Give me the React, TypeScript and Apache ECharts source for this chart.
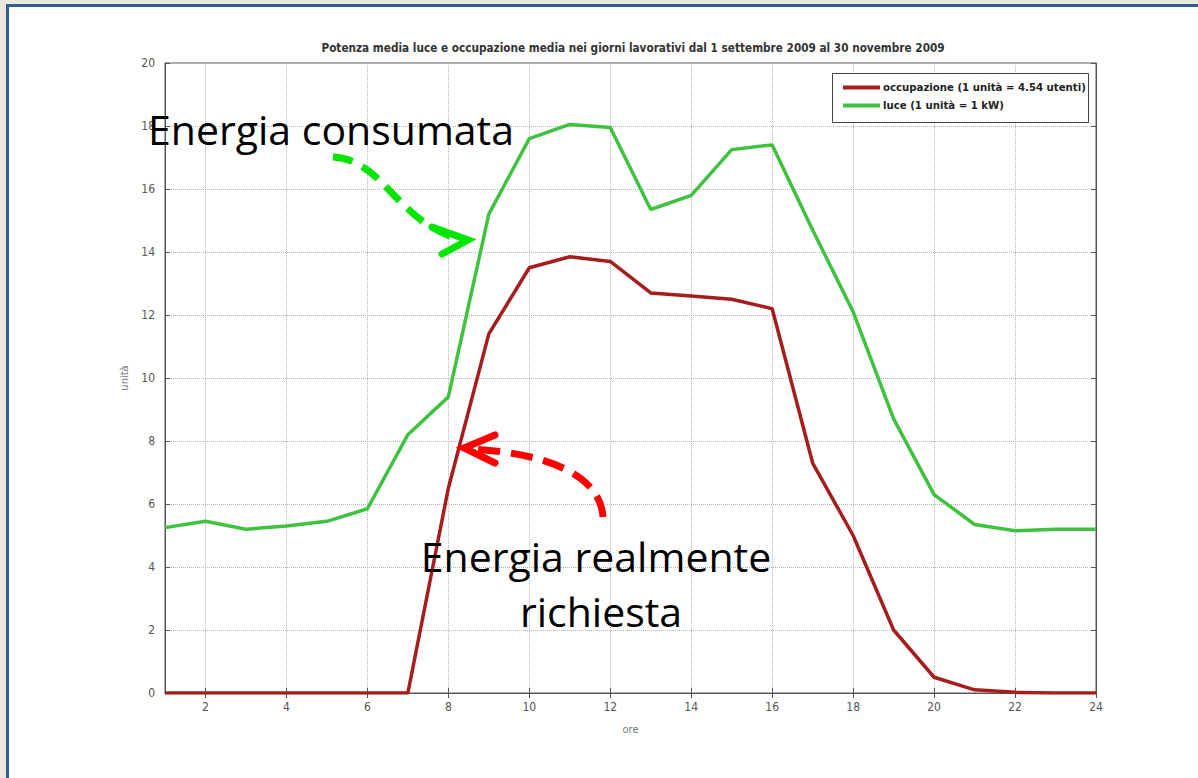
import React, { useEffect, useRef } from "react";
import * as echarts from "echarts";

const hours = [1, 2, 3, 4, 5, 6, 7, 8, 9, 10, 11, 12, 13, 14, 15, 16, 17, 18, 19, 20, 21, 22, 23, 24];
const luce = [5.25, 5.45, 5.2, 5.3, 5.45, 5.85, 8.2, 9.4, 15.2, 17.6, 18.05, 17.95, 15.35, 15.8, 17.25, 17.4, 14.7, 12.1, 8.7, 6.3, 5.35, 5.15, 5.2, 5.2];
const occupazione = [0, 0, 0, 0, 0, 0, 0, 6.5, 11.4, 13.5, 13.85, 13.7, 12.7, 12.6, 12.5, 12.2, 7.3, 5.0, 2.0, 0.5, 0.1, 0.02, 0, 0];
const xTicks = [2, 4, 6, 8, 10, 12, 14, 16, 18, 20, 22, 24];

const titleText = "Potenza media luce e occupazione media nei giorni lavorativi dal 1 settembre 2009 al 30 novembre 2009";
const nameOcc = "occupazione (1 unità = 4.54 utenti)";
const nameLuce = "luce (1 unità = 1 kW)";

const NARROW = "'Liberation Sans Narrow', 'DejaVu Sans Condensed', sans-serif";
const BIG = "'Open Sans', 'Noto Sans', sans-serif";

export default function App() {
  const ref = useRef<HTMLDivElement>(null);
  useEffect(() => {
    if (!ref.current) return;
    const chart = echarts.init(ref.current, null, { renderer: "svg" });
    const axisCommon = {
      axisLine: { show: true, lineStyle: { color: "#555", width: 1 } },
      axisTick: { show: true, inside: true, length: 5, lineStyle: { color: "#555" } },
    };
    const option: any = {
      animation: false,
      title: {
        text: titleText,
        left: 628,
        textAlign: "center",
        top: 37,
        textStyle: { fontFamily: NARROW, fontSize: 11.7, fontWeight: "bold", color: "#333" },
      },
      legend: {
        left: 838,
        top: 77,
        orient: "vertical",
        itemWidth: 37,
        itemHeight: 4,
        itemGap: 7,
        icon: "rect",
        data: [nameOcc, nameLuce],
        textStyle: { fontFamily: NARROW, fontSize: 11.3, fontWeight: "bold", color: "#222", padding: [0, 0, 0, -2] },
        z: 10,
      },
      grid: { left: 165, right: 102, top: 63, bottom: 85, show: true, borderColor: "#555", borderWidth: 1 },
      xAxis: [
        {
          type: "value",
          min: 1,
          max: 24,
          name: "ore",
          nameLocation: "middle",
          nameGap: 31,
          nameTextStyle: { fontFamily: NARROW, fontSize: 11, color: "#777" },
          ...axisCommon,
          axisTick: { ...axisCommon.axisTick, customValues: xTicks },
          axisLabel: { customValues: xTicks, fontFamily: NARROW, fontSize: 12, color: "#555", margin: 8 },
          splitLine: { show: true, lineStyle: { type: "dotted", color: "#b5b5b5", width: 1 } },
        },
        {
          type: "value",
          min: 1,
          max: 24,
          position: "top",
          ...axisCommon,
          axisTick: { ...axisCommon.axisTick, customValues: xTicks },
          axisLabel: { show: false, customValues: xTicks },
          splitLine: { show: false },
        },
      ],
      yAxis: [
        {
          type: "value",
          min: 0,
          max: 20,
          interval: 2,
          name: "unità",
          nameLocation: "middle",
          nameGap: 28,
          nameRotate: 90,
          nameTextStyle: { fontFamily: NARROW, fontSize: 11, color: "#777" },
          ...axisCommon,
          axisLabel: { fontFamily: NARROW, fontSize: 12, color: "#555", margin: 10 },
          splitLine: { show: true, lineStyle: { type: "dotted", color: "#b5b5b5", width: 1 } },
        },
        {
          type: "value",
          min: 0,
          max: 20,
          interval: 2,
          position: "right",
          ...axisCommon,
          axisLabel: { show: false },
          splitLine: { show: false },
        },
      ],
      series: [
        {
          name: nameOcc,
          type: "line",
          data: hours.map((h, i) => [h, occupazione[i]]),
          showSymbol: false,
          symbol: "none",
          color: "#a51d1d",
          lineStyle: { width: 3.5, color: "#a51d1d" },
          z: 3,
        },
        {
          name: nameLuce,
          type: "line",
          data: hours.map((h, i) => [h, luce[i]]),
          showSymbol: false,
          symbol: "none",
          color: "#3fc23f",
          lineStyle: { width: 3.5, color: "#3fc23f" },
          z: 2,
        },
      ],
      graphic: [
        {
          type: "rect",
          z: 5,
          shape: { x: 832.5, y: 73.5, width: 256, height: 49 },
          style: { fill: "#fff", stroke: "#444", lineWidth: 1 },
        },
        {
          type: "text",
          z: 20,
          x: 148,
          y: 129,
          style: { text: "Energia consumata", font: `41px ${BIG}`, fill: "#000", verticalAlign: "middle", align: "left" },
        },
        {
          type: "text",
          z: 20,
          x: 596,
          y: 556,
          style: { text: "Energia realmente", font: `41px ${BIG}`, fill: "#000", verticalAlign: "middle", align: "center" },
        },
        {
          type: "text",
          z: 20,
          x: 601,
          y: 611,
          style: { text: "richiesta", font: `41px ${BIG}`, fill: "#000", verticalAlign: "middle", align: "center" },
        },
        {
          type: "bezierCurve",
          z: 20,
          shape: { x1: 333, y1: 157, cpx1: 385, cpy1: 160, cpx2: 395, cpy2: 222, x2: 462, y2: 240 },
          style: { stroke: "#00e600", lineWidth: 7, lineDash: [20, 11], fill: null },
        },
        {
          type: "polyline",
          z: 20,
          shape: { points: [[432, 227], [468, 240], [442, 254]] },
          style: { stroke: "#00e600", lineWidth: 7, fill: null, lineJoin: "miter", lineCap: "round" },
        },
        {
          type: "bezierCurve",
          z: 20,
          shape: { x1: 603, y1: 517, cpx1: 600, cpy1: 472, cpx2: 540, cpy2: 452, x2: 468, y2: 449 },
          style: { stroke: "#ff0000", lineWidth: 7, lineDash: [22, 11], fill: null },
        },
        {
          type: "polyline",
          z: 20,
          shape: { points: [[495, 435], [464, 448], [495, 463]] },
          style: { stroke: "#ff0000", lineWidth: 7, fill: null, lineJoin: "miter", lineCap: "round" },
        },
      ],
    };
    chart.setOption(option);
    return () => chart.dispose();
  }, []);

  return (
    <div style={{ position: "absolute", left: 0, top: 0, width: 1198, height: 778, background: "#ebe8dd", overflow: "hidden" }}>
      <div
        style={{
          position: "absolute",
          left: 6,
          top: 4,
          width: 1300,
          height: 900,
          background: "#fff",
          borderTop: "3px solid #2f5e96",
          borderLeft: "3px solid #2f5e96",
        }}
      />
      <div ref={ref} style={{ position: "absolute", left: 0, top: 0, width: 1198, height: 778 }} />
    </div>
  );
}
